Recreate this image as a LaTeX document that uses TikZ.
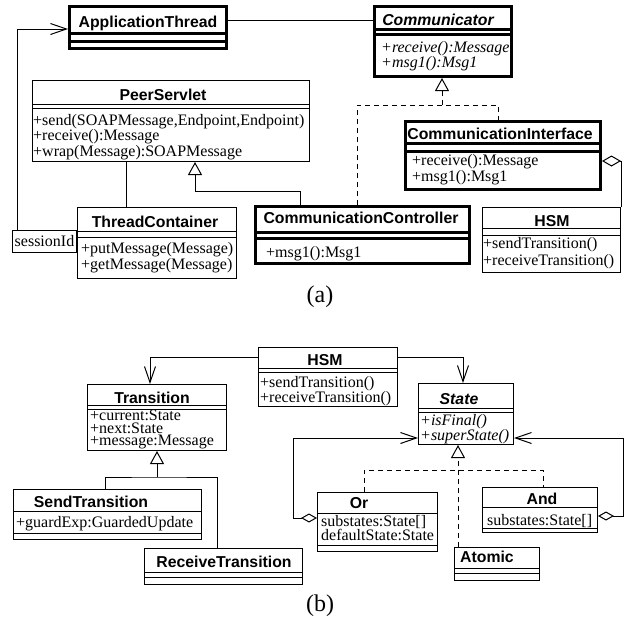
\documentclass[tikz,border=0pt]{standalone}
\usepackage{fontspec}
\setmainfont{Liberation Serif}
\setsansfont{Liberation Sans}
\usetikzlibrary{arrows.meta, positioning}

\begin{document}
\begin{tikzpicture}[x=1pt, y=-1pt,
    cls/.style={draw, line width=1pt, anchor=north west, inner sep=0pt},
    thickcls/.style={cls, line width=3pt},
    clsname/.style={font=\sffamily\bfseries\fontsize{15.8}{16}\selectfont, anchor=base, inner sep=0pt},
    members/.style={font=\fontsize{16}{14}\selectfont, align=left, anchor=north west, inner sep=0pt},
    sepline/.style={line width=1pt},
    thicksep/.style={line width=3pt},
    assoc/.style={line width=1pt},
    nav/.style={assoc, -{Straight Barb[length=16pt, width=11pt]}},
    gen/.style={assoc, -{Triangle[open, length=13pt, width=14pt]}},
    real/.style={assoc, dash pattern=on 5pt off 4pt},
    realgen/.style={real, -{Triangle[open, length=13pt, width=14pt]}},
    aggr/.style={assoc, {Diamond[open, length=19pt, width=11pt]}-},
    aggrnav/.style={assoc, {Diamond[open, length=16pt, width=9pt]}-{Straight Barb[length=16pt, width=11pt]}},
    caption/.style={font=\fontsize{24}{24}\selectfont}
  ]
  \useasboundingbox (0,0) rectangle (625,625);

  % === (a) ===
  \node[thickcls, minimum width=157pt, minimum height=42pt] (appthread) at (68,5) {};
  \node[clsname] (appthreadname) at (148,27) {ApplicationThread};
  \draw[thicksep] (68,33) -- (228,33);
  \draw[thicksep] (68,41) -- (228,41);

  \node[thickcls, minimum width=137pt, minimum height=70pt] (comm) at (373,5) {};
  \node[clsname, font=\sffamily\bfseries\itshape\fontsize{15.8}{16}\selectfont] (commname) at (438,25) {Communicator};
  \draw[thicksep] (373,29) -- (513,29);
  \draw[thicksep] (373,34) -- (513,34);
  \node[members, font=\itshape\fontsize{16}{15}\selectfont] (commops) at (381,41) {+receive():Message\\+msg1():Msg1};

  \node[cls, minimum width=277pt, minimum height=81pt] (peer) at (32,80) {};
  \node[clsname] (peername) at (163,100) {PeerServlet};
  \draw[sepline] (32,104) -- (310,104);
  \draw[sepline] (32,108) -- (310,108);
  \node[members] (peerops) at (33,114) {+send(SOAPMessage,Endpoint,Endpoint)\\+receive():Message\\+wrap(Message):SOAPMessage};

  \node[thickcls, minimum width=195pt, minimum height=68pt] (iface) at (404,120) {};
  \node[clsname] (ifacename) at (500,139) {CommunicationInterface};
  \draw[thicksep] (404,143) -- (602,143);
  \draw[thicksep] (404,151) -- (602,151);
  \node[members, font=\fontsize{16}{16}\selectfont] (ifaceops) at (412,154) {+receive():Message\\+msg1():Msg1};

  \node[thickcls, minimum width=214pt, minimum height=57pt] (ctrl) at (254,205) {};
  \node[clsname] (ctrlname) at (361,223) {CommunicationController};
  \draw[thicksep] (254,232) -- (471,232);
  \draw[thicksep] (254,238) -- (471,238);
  \node[members] (ctrlops) at (266,246) {+msg1():Msg1};

  \node[cls, minimum width=159pt, minimum height=71pt] (threadc) at (77,207) {};
  \node[clsname] (threadcname) at (155,227) {ThreadContainer};
  \draw[sepline] (77,231) -- (237,231);
  \draw[sepline] (77,237) -- (237,237);
  \node[members, font=\fontsize{16}{16}\selectfont] (threadcops) at (81,242) {+putMessage(Message)\\+getMessage(Message)};

  \node[cls, minimum width=64pt, minimum height=22pt, anchor=north west,
        font=\fontsize{16}{16}\selectfont] (session) at (12,230) {sessionId};

  \node[cls, minimum width=138pt, minimum height=65pt] (hsma) at (482,207) {};
  \node[clsname] (hsmaname) at (552,226) {HSM};
  \draw[sepline] (482,228) -- (621,228);
  \draw[sepline] (482,235) -- (621,235);
  \node[members, font=\fontsize{16}{17}\selectfont] (hsmaops) at (483,237) {+sendTransition()\\+receiveTransition()};

  % connectors of (a)
  \draw[assoc] (appthread.east |- 0,20) -- (comm.west |- 0,20);
  \draw[nav] (session.north -| 17,0) |- (appthread.west |- 0,29);
  \draw[assoc] (threadc.north -| 126,0) -- (peer.south -| 126,0);
  \draw[gen] (ctrl.north -| 300,0) -- ++(0,-14) -| (peer.south -| 195,0);
  \coordinate (joina) at (442,105);
  \draw[real] (ctrl.north -| 357,0) |- (joina) -| (iface.north -| 498,0);
  \draw[realgen] (joina) -- (comm.south -| joina);
  \draw[aggr] (iface.east |- 0,161) -- ++(19,0) -- (hsma.north east);

  \node[caption] (capa) at (320,297) {(a)};

  % === (b) ===
  \node[cls, minimum width=139pt, minimum height=59pt] (hsmb) at (258,347) {};
  \node[clsname] (hsmbname) at (325,365) {HSM};
  \draw[sepline] (258,368) -- (398,368);
  \draw[sepline] (258,372) -- (398,372);
  \node[members, font=\fontsize{16}{13}\selectfont] (hsmbops) at (260,376) {+sendTransition()\\+receiveTransition()};

  \node[cls, minimum width=139pt, minimum height=66pt] (trans) at (87,384) {};
  \node[clsname] (transname) at (152,403) {Transition};
  \draw[sepline] (87,405) -- (227,405);
  \draw[sepline] (87,409) -- (227,409);
  \node[members, font=\fontsize{16}{12.5}\selectfont] (transattrs) at (90,410) {+current:State\\+next:State\\+message:Message};

  \node[cls, minimum width=95pt, minimum height=61pt] (state) at (418,383) {};
  \node[clsname, font=\sffamily\bfseries\itshape\fontsize{15.8}{16}\selectfont] (statename) at (459,404) {State};
  \draw[sepline] (418,408) -- (514,408);
  \draw[sepline] (418,412) -- (514,412);
  \node[members, font=\itshape\fontsize{16}{14}\selectfont] (stateops) at (420,414) {+isFinal()\\+superState()};

  \node[cls, minimum width=188pt, minimum height=50pt] (send) at (13,489) {};
  \node[clsname] (sendname) at (91,507) {SendTransition};
  \draw[sepline] (13,511) -- (202,511);
  \draw[sepline] (13,533) -- (202,533);
  \node[members] (sendattrs) at (16,516) {+guardExp:GuardedUpdate};

  \node[cls, minimum width=158pt, minimum height=36pt] (recv) at (144,548) {};
  \node[clsname] (recvname) at (224,567) {ReceiveTransition};
  \draw[sepline] (144,572) -- (303,572);
  \draw[sepline] (144,577) -- (303,577);

  \node[cls, minimum width=120pt, minimum height=59pt] (or) at (317,492) {};
  \node[clsname] (orname) at (359,508) {Or};
  \draw[sepline] (317,513) -- (438,513);
  \draw[sepline] (317,545) -- (438,545);
  \node[members, font=\fontsize{16}{11.5}\selectfont] (orattrs) at (321,515) {substates:State[]\\defaultState:State};

  \node[cls, minimum width=115pt, minimum height=45pt] (and) at (482,487) {};
  \node[clsname] (andname) at (542,504) {And};
  \draw[sepline] (482,507) -- (598,507);
  \draw[sepline] (482,528) -- (598,528);
  \node[members] (andattrs) at (487,514) {substates:State[]};

  \node[cls, minimum width=85pt, minimum height=33pt] (atomic) at (454,547) {};
  \node[clsname] (atomicname) at (487,562) {Atomic};
  \draw[sepline] (454,568) -- (540,568);
  \draw[sepline] (454,573) -- (540,573);

  % connectors of (b)
  \draw[nav] (hsmb.west |- 0,357) -| (trans.north -| 150,0);
  \draw[nav] (hsmb.east |- 0,357) -| (state.north -| 463,0);
  \coordinate (joinb) at (157,477);
  \draw[assoc] (send.north -| 105,0) |- (joinb) -| (recv.north -| 217,0);
  \draw[gen] (joinb) -- (trans.south -| joinb);
  \coordinate (joinc) at (458,470);
  \draw[real] (or.north -| 364,0) |- (joinc) -| (and.north -| 543,0);
  \draw[realgen] (atomic.north -| joinc) -- (state.south -| joinc);
  \draw[aggrnav] (or.west |- 0,518) -- ++(-24,0) |- (state.west |- 0,438);
  \draw[aggrnav] (and.east |- 0,516) -- ++(25,0) |- (state.east |- 0,438);

  \node[caption] (capb) at (320,606) {(b)};
\end{tikzpicture}
\end{document}
